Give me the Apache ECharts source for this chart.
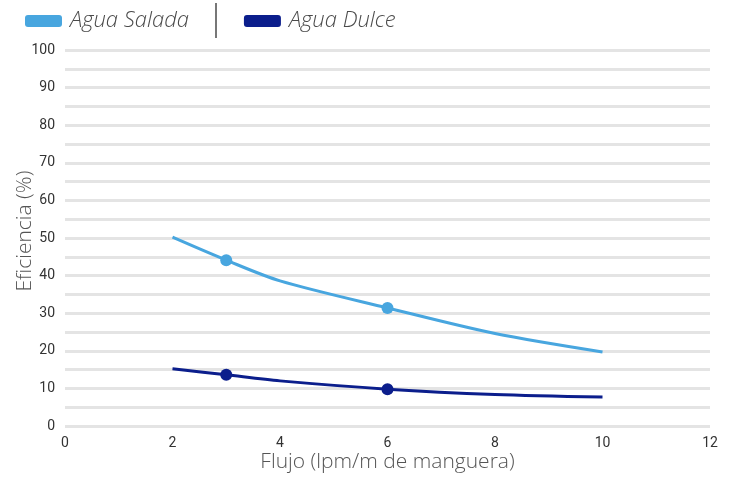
<!DOCTYPE html>
<html>
<head>
<meta charset="utf-8">
<script src="https://cdn.jsdelivr.net/npm/echarts@6/dist/echarts.min.js"></script>
<style>html,body{margin:0;padding:0;background:#fff}#c{width:737px;height:478px}</style>
</head>
<body>
<div id="c"></div>
<script>
const flujo = [2, 3, 4, 6, 8, 10];
const aguaSalada = [50.2, 44.1, 38.6, 31.4, 24.6, 19.7];
const aguaDulce = [15.2, 13.6, 12.0, 9.8, 8.4, 7.7];
const markedX = [3, 6];
const seriesNames = ['Agua Salada', 'Agua Dulce'];
const colors = ['#48A6DF', '#0B1E8C'];

function pts(vals) {
  return flujo.map((x, i) => ({
    value: [x, vals[i]],
    symbolSize: markedX.includes(x) ? 12 : 0
  }));
}

const chart = echarts.init(document.getElementById('c'));
chart.setOption({
  animation: false,
  grid: { left: 65, right: 27, top: 50, bottom: 52, containLabel: false, outerBoundsMode: 'none' },
  legend: {
    top: 5, left: 20, itemWidth: 37, itemHeight: 12, itemGap: 55,
    icon: 'roundRect',
    textStyle: { fontFamily: 'Open Sans', fontStyle: 'italic', fontSize: 22, color: '#4a4a4a', fontWeight: 300, padding: [0, 0, 0, 3] },
    data: seriesNames
  },
  graphic: [{
    type: 'line', shape: { x1: 216, y1: 3, x2: 216, y2: 38 },
    style: { stroke: '#777', lineWidth: 2 }
  }],
  xAxis: {
    type: 'value', min: 0, max: 12, interval: 2,
    name: 'Flujo (lpm/m de manguera)', nameLocation: 'middle', nameGap: 26, nameMoveOverlap: false,
    nameTextStyle: { fontFamily: 'Open Sans', fontSize: 21, color: '#555', fontWeight: 300 },
    axisLine: { show: false }, axisTick: { show: false }, splitLine: { show: false },
    axisLabel: { fontFamily: 'Roboto', fontSize: 14, color: '#333', margin: 10 }
  },
  yAxis: {
    type: 'value', min: 0, max: 100, interval: 5,
    name: 'Eficiencia (%)', nameLocation: 'middle', nameGap: 29, nameMoveOverlap: false,
    nameTextStyle: { fontFamily: 'Open Sans', fontSize: 21, color: '#555', fontWeight: 300, padding: [0, 0, 0, 14] },
    axisLine: { show: false }, axisTick: { show: false },
    splitLine: { lineStyle: { color: '#e4e4e4', width: 3 } },
    axisLabel: { fontFamily: 'Roboto', fontSize: 14, color: '#333', margin: 10,
      formatter: v => (v % 10 === 0 ? String(v) : '') }
  },
  series: [
    { name: seriesNames[0], type: 'line', smooth: 0.3, symbol: 'circle', showSymbol: true,
      data: pts(aguaSalada), itemStyle: { color: colors[0] }, lineStyle: { color: colors[0], width: 3 } },
    { name: seriesNames[1], type: 'line', smooth: 0.3, symbol: 'circle', showSymbol: true,
      data: pts(aguaDulce), itemStyle: { color: colors[1] }, lineStyle: { color: colors[1], width: 3 } }
  ]
});
</script>
</body>
</html>
